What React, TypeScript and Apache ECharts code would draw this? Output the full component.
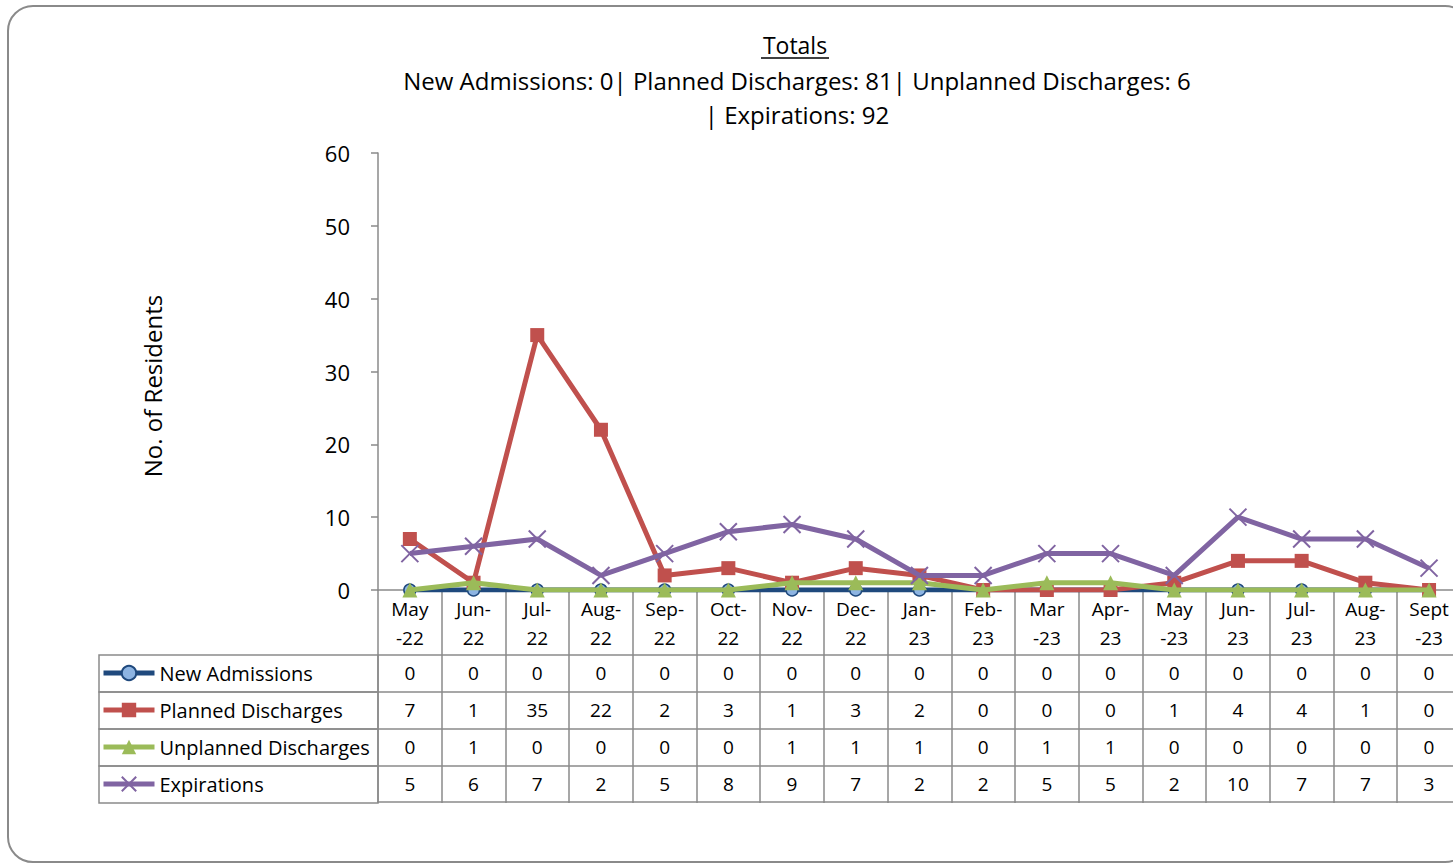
import React, { useEffect, useRef } from "react";
import * as echarts from "echarts";

const categories = [
  "May\n-22", "Jun-\n22", "Jul-\n22", "Aug-\n22", "Sep-\n22", "Oct-\n22", "Nov-\n22", "Dec-\n22",
  "Jan-\n23", "Feb-\n23", "Mar\n-23", "Apr-\n23", "May\n-23", "Jun-\n23", "Jul-\n23", "Aug-\n23", "Sept\n-23",
];
const newAdmissions = [0, 0, 0, 0, 0, 0, 0, 0, 0, 0, 0, 0, 0, 0, 0, 0, 0];
const plannedDischarges = [7, 1, 35, 22, 2, 3, 1, 3, 2, 0, 0, 0, 1, 4, 4, 1, 0];
const unplannedDischarges = [0, 1, 0, 0, 0, 0, 1, 1, 1, 0, 1, 1, 0, 0, 0, 0, 0];
const expirations = [5, 6, 7, 2, 5, 8, 9, 7, 2, 2, 5, 5, 2, 10, 7, 7, 3];
const seriesNames = ["New Admissions", "Planned Discharges", "Unplanned Discharges", "Expirations"];
const titleText = "Totals";
const subtitleText = "New Admissions: 0| Planned Discharges: 81| Unplanned Discharges: 6\n| Expirations: 92";
const yAxisName = "No. of Residents";

const FONT = "'Open Sans', Lato, sans-serif";
const GRAY = "#8a8a8a";
const CHART_W = 1480;
const CHART_H = 864;

export default function App() {
  const ref = useRef<HTMLDivElement>(null);
  useEffect(() => {
    if (!ref.current) return;
    const chart = echarts.init(ref.current, null, { renderer: "svg" });
    const seriesData = [newAdmissions, plannedDischarges, unplannedDischarges, expirations];
    const colors = ["#1F497D", "#C0504D", "#9BBB59", "#8064A2"];

    const gridLeft = 378;
    const gridTop = 153;
    const axisY = 590;
    const rowH = 37;
    const firstRowTop = 655;
    const catW = 63.7;

    const tableAxes = seriesData.map((vals, i) => ({
      type: "category",
      data: categories,
      gridIndex: 0,
      position: "bottom",
      offset: firstRowTop - axisY + i * rowH,
      axisLine: { show: true, lineStyle: { color: GRAY, width: 1.5 } },
      axisTick: { show: true, length: rowH, interval: 0, lineStyle: { color: GRAY, width: 1.5 } },
      axisLabel: {
        interval: 0,
        margin: 8,
        fontSize: 19,
        fontFamily: FONT,
        color: "#000",
        formatter: (_v: string, idx: number) => String(vals[idx]),
      },
    }));
    const bottomAxis = {
      type: "category",
      data: categories,
      gridIndex: 0,
      position: "bottom",
      offset: firstRowTop - axisY + 4 * rowH - 1,
      axisLine: { show: true, lineStyle: { color: GRAY, width: 1.5 } },
      axisTick: { show: false },
      axisLabel: { show: false },
    };

    const symbols = ["circle", "rect", "triangle", "path://M0,0L10,10M10,0L0,10"];
    const symbolSizes = [12, 14, 15, 17];

    const series = seriesData.map((vals, i) => ({
      name: seriesNames[i],
      type: "line",
      xAxisIndex: 0,
      yAxisIndex: 0,
      data: vals,
      symbol: symbols[i],
      symbolSize: symbolSizes[i],
      showSymbol: true,
      lineStyle: { color: colors[i], width: 5 },
      itemStyle:
        i === 0
          ? { color: "#8DB4E2", borderColor: "#1F497D", borderWidth: 1.5 }
          : i === 3
          ? { color: colors[i], borderColor: colors[i], borderWidth: 2 }
          : { color: colors[i] },
      z: 2 + i,
    }));

    const legends = seriesNames.map((n, i) => ({
      data: [n],
      orient: "horizontal",
      left: 101,
      top: firstRowTop + i * rowH + 8,
      padding: 0,
      itemWidth: 51,
      itemHeight: 18,
      selectedMode: false,
      lineStyle: { width: 5 },
      textStyle: { fontSize: 20, fontFamily: FONT, color: "#000" },
    }));

    const leftCells = seriesNames.map((_n, i) => ({
      type: "rect",
      shape: { x: 99, y: firstRowTop + i * rowH, width: gridLeft - 99, height: rowH },
      style: { fill: "none", stroke: GRAY, lineWidth: 1.5 },
      silent: true,
    }));

    chart.setOption({
      animation: false,
      backgroundColor: "#fff",
      grid: { left: gridLeft, top: gridTop, right: CHART_W - gridLeft - 17 * catW, bottom: CHART_H - axisY, containLabel: false },
      legend: legends,
      xAxis: [
        {
          type: "category",
          data: categories,
          position: "bottom",
          axisLine: { show: true, lineStyle: { color: GRAY, width: 1.5 } },
          axisTick: { show: true, length: firstRowTop - axisY, interval: 0, lineStyle: { color: GRAY, width: 1.5 } },
          axisLabel: { interval: 0, margin: 4, fontSize: 19, lineHeight: 29, fontFamily: FONT, color: "#000" },
          z: 1,
        },
        ...tableAxes,
        bottomAxis,
      ],
      yAxis: {
        type: "value",
        min: 0,
        max: 60,
        interval: 10,
        axisLine: { show: true, lineStyle: { color: GRAY, width: 1.5 } },
        axisTick: { show: true, length: 7, lineStyle: { color: GRAY, width: 1.5 } },
        splitLine: { show: false },
        axisLabel: { margin: 28, fontSize: 22, fontFamily: FONT, color: "#000" },
      },
      graphic: [
        {
          type: "rect",
          shape: { x: 8, y: 6, width: 1462, height: 856, r: 25 },
          style: { fill: "none", stroke: GRAY, lineWidth: 2 },
          silent: true,
          z: -1,
        },
        ...leftCells,
        {
          type: "text",
          x: 795,
          y: 45,
          style: { text: titleText, align: "center", verticalAlign: "middle", font: `23px ${FONT}`, fill: "#000" },
        },
        {
          type: "line",
          shape: { x1: 761, y1: 58, x2: 829, y2: 58 },
          style: { stroke: "#000", lineWidth: 1.5 },
        },
        {
          type: "text",
          x: 797,
          y: 97,
          style: {
            text: subtitleText,
            align: "center",
            verticalAlign: "middle",
            font: `24px ${FONT}`,
            lineHeight: 34,
            fill: "#000",
          },
        },
        {
          type: "text",
          x: 152,
          y: 386,
          rotation: Math.PI / 2,
          style: { text: yAxisName, align: "center", verticalAlign: "middle", font: `24px ${FONT}`, fill: "#000" },
        },
      ],
      series,
    });
    return () => chart.dispose();
  }, []);
  return (
    <div style={{ position: "absolute", left: 0, top: 0, width: 1453, height: 864, overflow: "hidden" }}>
      <div ref={ref} style={{ width: CHART_W, height: CHART_H }} />
    </div>
  );
}
